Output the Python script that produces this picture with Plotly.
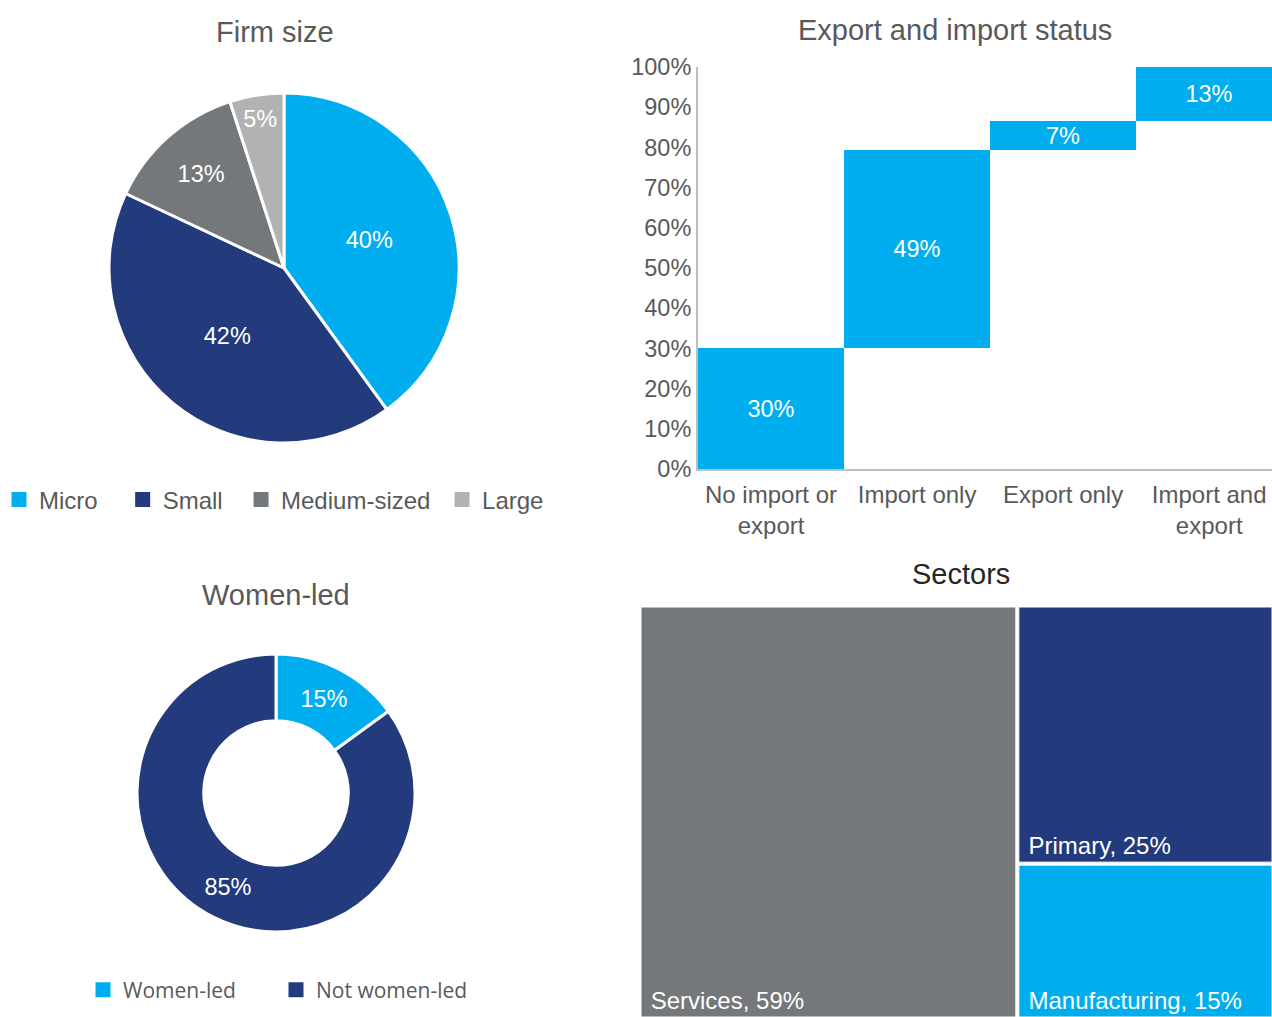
import plotly.graph_objects as go

W, H = 1272, 1017

# ---------------- data ----------------
size_labels = ["Micro", "Small", "Medium-sized", "Large"]
size_values = [40, 42, 13, 5]
size_colors = ["#00AEEF", "#233A7D", "#75787B", "#B1B3B3"]

trade_cats = ["No import or<br>export", "Import only", "Export only", "Import and<br>export"]
trade_values = [30, 49.4, 7.2, 13.4]

women_labels = ["Women-led", "Not women-led"]
women_values = [15, 85]
women_colors = ["#00AEEF", "#233A7D"]

sector_labels = ["Services", "Primary", "Manufacturing"]
sector_values = [59, 25, 15]
sector_colors = ["#75787B", "#233A7D", "#00AEEF"]

FONT = "Liberation Sans, Arial, sans-serif"
GREY = "#595959"
LBL = 23.5

def fx(a):
    return a / W

def fy(a):
    return 1 - a / H

def px_x(a, b):
    return [fx(a), fx(b)]

def px_y(top, bottom):
    return [fy(bottom), fy(top)]

fig = go.Figure()

# Firm size pie
cx, cy, r = 284, 268, 175
fig.add_trace(go.Pie(
    labels=size_labels, values=size_values, sort=False, direction="clockwise",
    rotation=0, marker=dict(colors=size_colors, line=dict(color="white", width=3)),
    texttemplate="%{value}%", textposition="inside", insidetextorientation="horizontal",
    textfont=dict(color="white", size=LBL, family=FONT),
    domain=dict(x=px_x(cx - r, cx + r), y=px_y(cy - r, cy + r)),
    showlegend=False,
))

# Women-led donut
cx2, cy2, r2 = 276, 793, 139
fig.add_trace(go.Pie(
    labels=women_labels, values=women_values, sort=False, direction="clockwise",
    rotation=0, hole=0.52,
    marker=dict(colors=women_colors, line=dict(color="white", width=3)),
    texttemplate="%{value}%", textposition="inside", insidetextorientation="horizontal",
    textfont=dict(color="white", size=LBL, family=FONT),
    domain=dict(x=px_x(cx2 - r2, cx2 + r2), y=px_y(cy2 - r2, cy2 + r2)),
    showlegend=False,
))

# Export/import floating bars
bases = []
acc = 0
for v in trade_values:
    bases.append(acc)
    acc += v
fig.add_trace(go.Bar(
    x=trade_cats, y=trade_values, base=bases, marker=dict(color="#00AEEF", line=dict(width=0)),
    texttemplate="%{y:.0f}%", textposition="inside", insidetextanchor="middle",
    textfont=dict(color="white", size=LBL, family=FONT), showlegend=False,
    xaxis="x", yaxis="y", cliponaxis=True,
))

# Legend entries (square swatches)
pads1 = ["   ", "  ", " ", ""]
for lab, col, pad in zip(size_labels, size_colors, pads1):
    fig.add_trace(go.Scatter(x=[None], y=[None], mode="markers", name=lab + pad,
                             marker=dict(symbol="square", size=15, color=col),
                             legend="legend", hoverinfo="skip"))
for lab, col in zip(women_labels, women_colors):
    fig.add_trace(go.Scatter(x=[None], y=[None], mode="markers", name=lab,
                             marker=dict(symbol="square", size=15, color=col),
                             legend="legend2", hoverinfo="skip"))

# Sectors treemap
fig.add_trace(go.Treemap(
    labels=sector_labels, parents=[""] * len(sector_labels), values=sector_values,
    marker=dict(colors=sector_colors, line=dict(color="white", width=1), pad=dict(t=0, l=0, r=0, b=0)),
    tiling=dict(pad=3),
    pathbar=dict(visible=False),
    root=dict(color="white"),
    texttemplate=" %{label}, %{value}%", textposition="bottom left",
    textfont=dict(color="white", size=24, family=FONT),
    domain=dict(x=px_x(641, 1272), y=px_y(607, 1017)),
))

fig.update_layout(
    width=W, height=H, margin=dict(l=0, r=0, t=0, b=0, autoexpand=False),
    paper_bgcolor="white", plot_bgcolor="white",
    font=dict(family=FONT, color=GREY, size=20),
    bargap=0,
    xaxis=dict(domain=px_x(698, 1272), range=[-0.5, 3.43], showline=True, linecolor="#BFBFBF",
               linewidth=2, ticks="", showgrid=False, zeroline=False, automargin=False,
               ticklabelstandoff=3,
               tickfont=dict(size=24, color=GREY, family=FONT)),
    yaxis=dict(domain=px_y(67, 469), range=[0, 100], dtick=10, ticksuffix="%",
               showline=True, linecolor="#BFBFBF", linewidth=2, ticks="", showgrid=False,
               zeroline=False, automargin=False,
               tickfont=dict(size=LBL, color=GREY, family=FONT)),
    legend=dict(orientation="h", x=fx(-1), y=fy(500), xanchor="left", yanchor="middle",
                font=dict(size=24, color=GREY, family=FONT), itemclick=False),
    legend2=dict(orientation="h", x=fx(83), y=fy(990), xanchor="left", yanchor="middle",
                 entrywidth=148, entrywidthmode="pixels",
                 font=dict(size=21, color=GREY, family="Open Sans, sans-serif")),
    uniformtext=dict(minsize=LBL, mode="show"),
    annotations=[
        dict(text="Firm size", x=fx(275), y=fy(32), xref="paper", yref="paper",
             xanchor="center", yanchor="middle",
             showarrow=False, font=dict(size=29, color=GREY, family=FONT)),
        dict(text="Export and import status", x=fx(955), y=fy(30), xref="paper", yref="paper",
             xanchor="center", yanchor="middle",
             showarrow=False, font=dict(size=29, color=GREY, family=FONT)),
        dict(text="Women-led", x=fx(276), y=fy(595), xref="paper", yref="paper",
             xanchor="center", yanchor="middle",
             showarrow=False, font=dict(size=29, color=GREY, family=FONT)),
        dict(text="Sectors", x=fx(961), y=fy(574), xref="paper", yref="paper",
             xanchor="center", yanchor="middle",
             showarrow=False, font=dict(size=29, color="#262626", family=FONT)),
    ],
)

fig.write_html(
    "out.html",
    config={"displayModeBar": False},
    post_script="document.body.style.margin='0px';document.documentElement.style.overflow='hidden';",
)
